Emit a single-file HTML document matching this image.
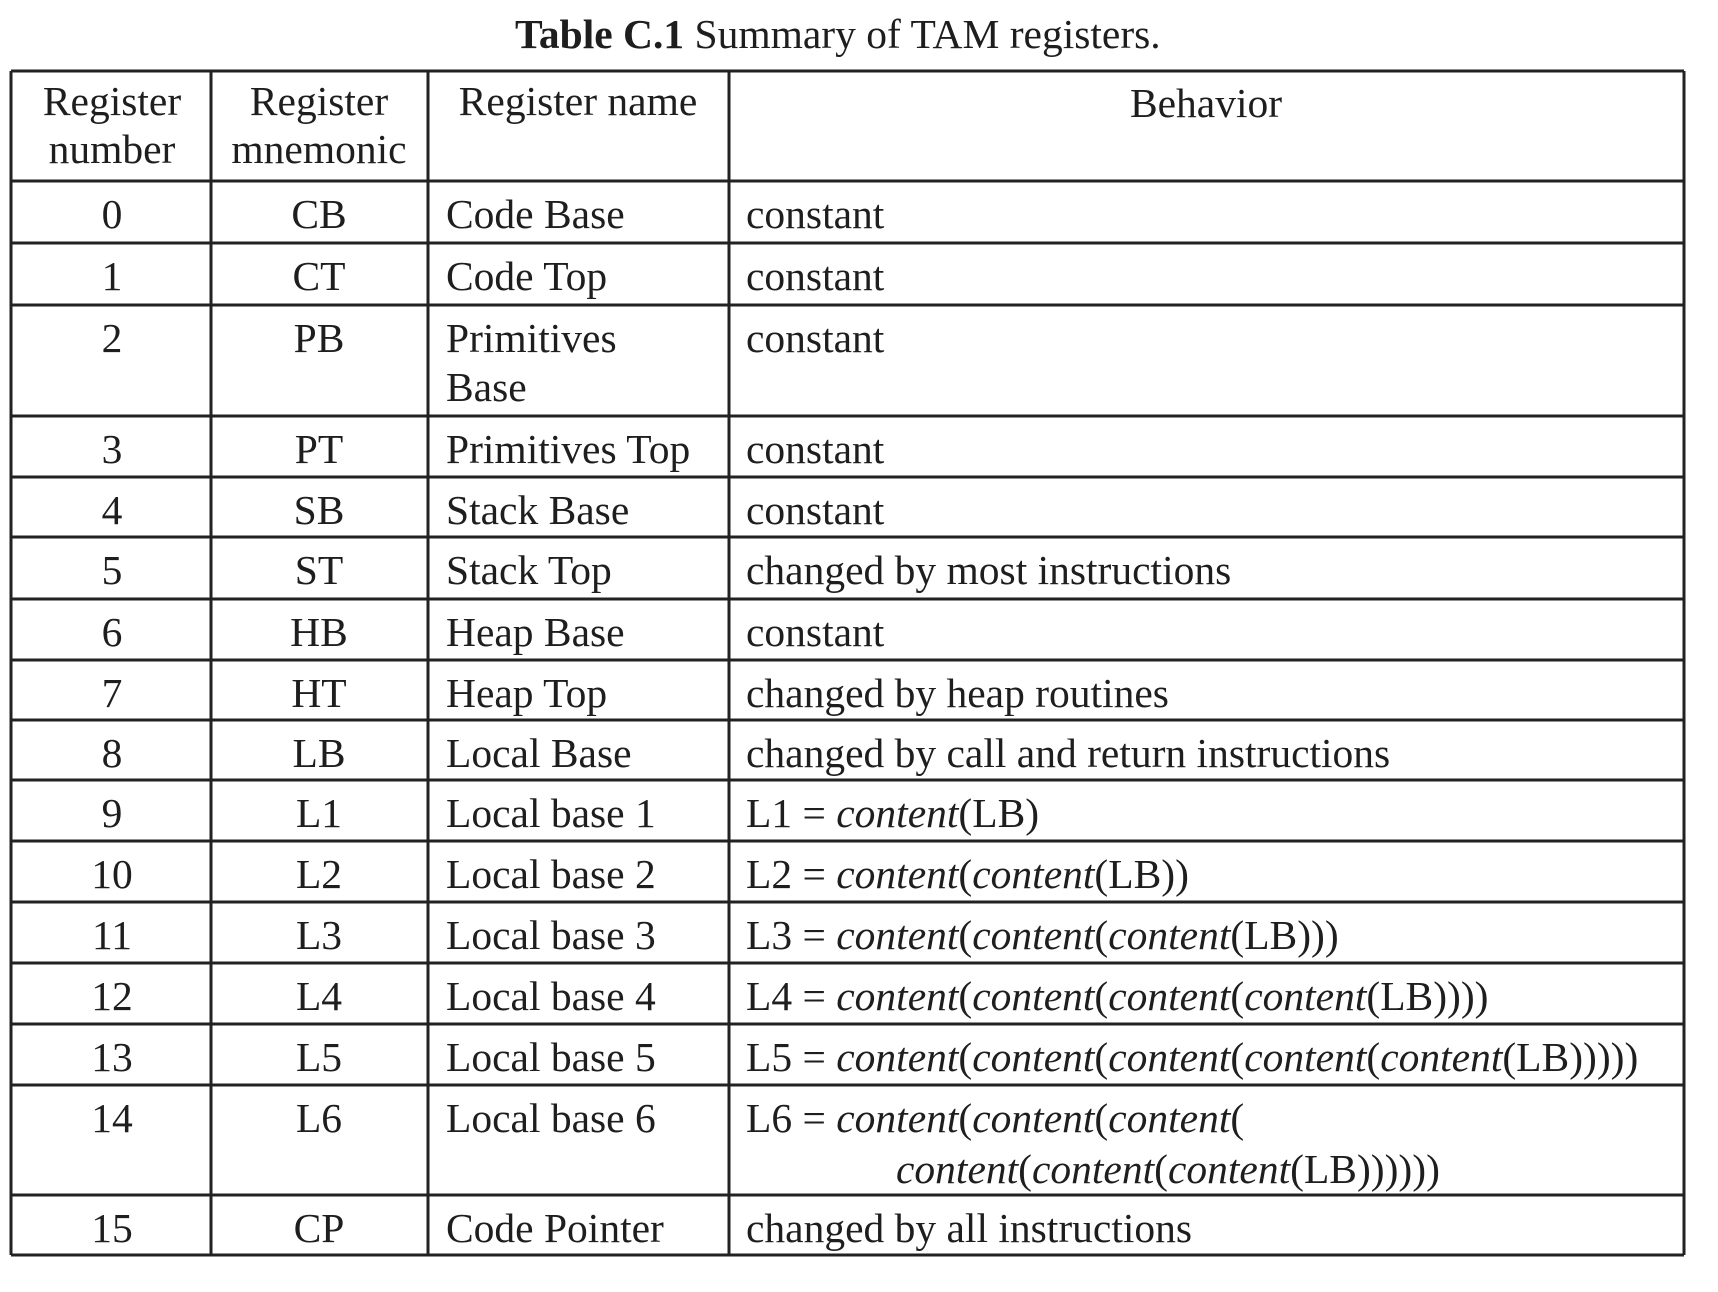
<!DOCTYPE html>
<html><head><meta charset="utf-8"><style>
html,body{margin:0;padding:0;background:#fff;}
svg{display:block;}
text{font-family:"Liberation Serif",serif;fill:#1e1e1e;font-size:41.5px;}
.i{font-style:italic;}
</style></head><body>
<svg id="s" width="1718" height="1292" viewBox="0 0 1718 1292">
<text x="515" y="48" font-size="43"><tspan font-weight="bold">Table C.1</tspan>  Summary of TAM registers.</text>
<g id="grid" stroke="#222" stroke-width="3"></g>
<g id="cells"></g>
</svg>
<script>
const colX=[11,211,428,729,1684];
const rowY=[71,181,243,305,416,477,537,599,660,720,780,841,902,963,1024,1085,1195,1255];
const nums=["0","1","2","3","4","5","6","7","8","9","10","11","12","13","14","15"];
const mnem=["CB","CT","PB","PT","SB","ST","HB","HT","LB","L1","L2","L3","L4","L5","L6","CP"];
const names=[["Code Base"],["Code Top"],["Primitives","Base"],["Primitives Top"],["Stack Base"],["Stack Top"],["Heap Base"],["Heap Top"],["Local Base"],["Local base 1"],["Local base 2"],["Local base 3"],["Local base 4"],["Local base 5"],["Local base 6"],["Code Pointer"]];
const beh=["constant","constant","constant","constant","constant","changed by most instructions","constant","changed by heap routines","changed by call and return instructions","","","","","","","changed by all instructions"];
const NS="http://www.w3.org/2000/svg";
const grid=document.getElementById('grid'),cells=document.getElementById('cells');
function ln(x1,y1,x2,y2,n){const l=document.createElementNS(NS,'line');
l.setAttribute('x1',x1);l.setAttribute('y1',y1);l.setAttribute('x2',x2);l.setAttribute('y2',y2);


grid.appendChild(l);}
rowY.forEach((y,i)=>ln(colX[0],y,colX[4],y,'row-rule'));
colX.forEach((x,i)=>ln(x,rowY[0],x,rowY[rowY.length-1],'column-rule'));
function tx(x,y,s,anchor,n){const t=document.createElementNS(NS,'text');
t.setAttribute('x',x);t.setAttribute('y',y);if(anchor)t.setAttribute('text-anchor',anchor);
t.innerHTML=s;


cells.appendChild(t);return t;}
tx(112,115,"Register","middle","header-number");tx(112,163,"number","middle","header-number");
tx(319,115,"Register","middle","header-mnemonic");tx(319,163,"mnemonic","middle","header-mnemonic");
tx(578,115,"Register name","middle","header-name");
tx(1206,117,"Behavior","middle","header-behavior");
const C='<tspan class="i">content</tspan>(';
const special={9:"L1 = "+C+"LB)",10:"L2 = "+C+C+"LB))",11:"L3 = "+C+C+C+"LB)))",12:"L4 = "+C+C+C+C+"LB))))",13:"L5 = "+C+C+C+C+C+"LB)))))"};
for(let r=0;r<16;r++){
 const y=rowY[r+1]+47;
 tx(112,y,nums[r],"middle","register-number");
 tx(319,y,mnem[r],"middle","register-mnemonic");
 names[r].forEach((s,k)=>tx(446,y+k*49,s,null,"register-name"));
 if(r===14){tx(746,y,"L6 = "+C+C+C,null,"register-behavior");tx(896,y+51,C+C+C+"LB))))))",null,"register-behavior");}
 else tx(746,y,special[r]||beh[r],null,"register-behavior");
}
</script>
</body></html>
